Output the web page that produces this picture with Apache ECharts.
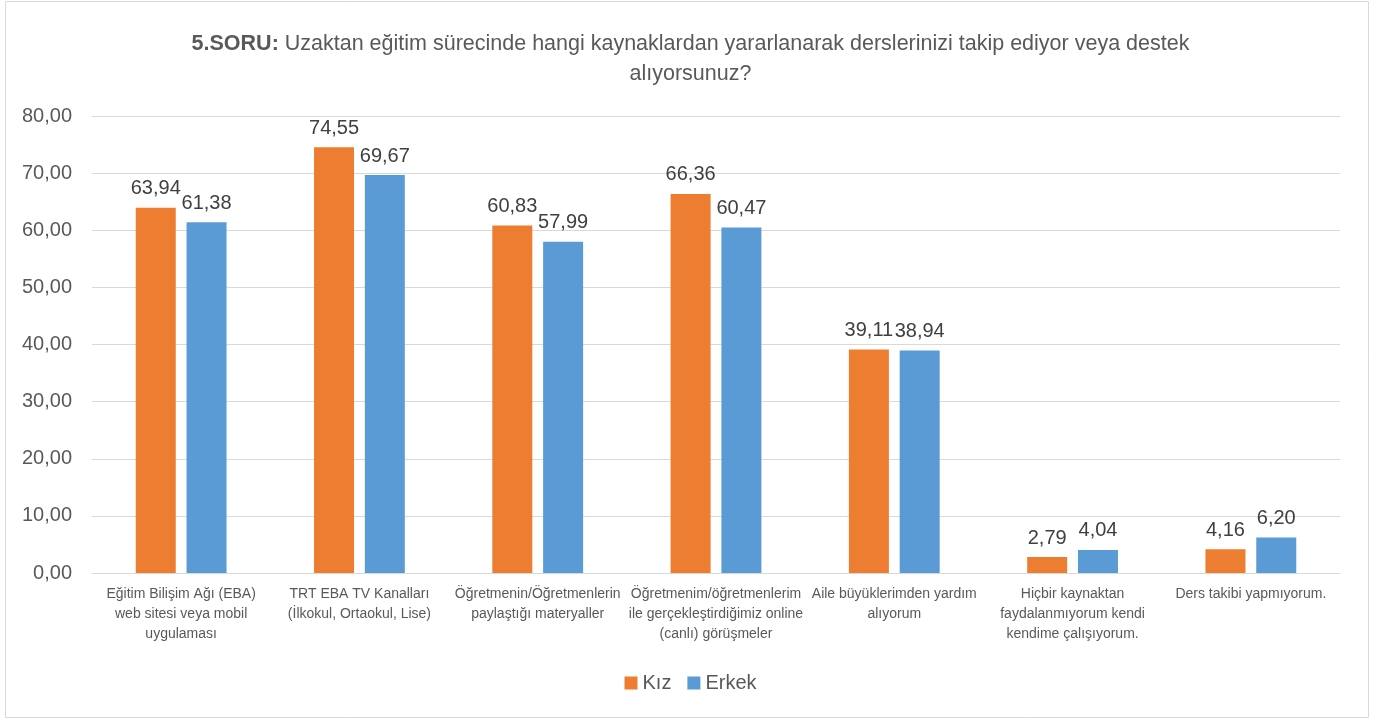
<!DOCTYPE html>
<html>
<head>
<meta charset="utf-8">
<title>5.SORU</title>
<script src="https://cdn.jsdelivr.net/npm/echarts@6/dist/echarts.min.js"></script>
<style>
    html, body { margin: 0; padding: 0; background: #fff; }
    #chart { width: 1381px; height: 720px; }
</style>
</head>
<body>
<div id="chart"></div>
<script>
// veriler
var categories = [
    'Eğitim Bilişim Ağı (EBA)\nweb sitesi veya mobil\nuygulaması',
    'TRT EBA TV Kanalları\n(İlkokul, Ortaokul, Lise)',
    'Öğretmenin/Öğretmenlerin\npaylaştığı materyaller',
    'Öğretmenim/öğretmenlerim\nile gerçekleştirdiğimiz online\n(canlı) görüşmeler',
    'Aile büyüklerimden yardım\nalıyorum',
    'Hiçbir kaynaktan\nfaydalanmıyorum kendi\nkendime çalışıyorum.',
    'Ders takibi yapmıyorum.'
];
var kiz = [63.94, 74.55, 60.83, 66.36, 39.11, 2.79, 4.16];
var erkek = [61.38, 69.67, 57.99, 60.47, 38.94, 4.04, 6.20];
var seriesNames = ['Kız', 'Erkek'];

var textColor = '#595959';
var fontName = '"Liberation Sans", Arial, sans-serif';

function fmt(v) {
    return Number(v).toFixed(2).replace('.', ',');
}

function barLabel() {
    return {
        show: true,
        position: 'top',
        distance: 9,
        fontFamily: fontName,
        fontSize: 20,
        color: '#404040',
        formatter: function (p) { return fmt(p.value); }
    };
}

var chart = echarts.init(document.getElementById('chart'));

var option = {
    animation: false,
    textStyle: { fontFamily: fontName, color: textColor },
    title: {
        text: '{b|5.SORU:} Uzaktan eğitim sürecinde hangi kaynaklardan yararlanarak derslerinizi takip ediyor veya destek\nalıyorsunuz?',
        left: 'center',
        top: 24,
        textStyle: {
            fontFamily: fontName,
            fontSize: 21.5,
            fontWeight: 'normal',
            color: textColor,
            lineHeight: 30,
            align: 'center',
            rich: {
                b: { fontFamily: fontName, fontSize: 21.5, fontWeight: 'bold', color: textColor, lineHeight: 30 }
            }
        }
    },
    legend: {
        data: seriesNames,
        bottom: 22,
        left: 'center',
        itemWidth: 13,
        itemHeight: 13,
        itemGap: 16,
        icon: 'rect',
        textStyle: { fontFamily: fontName, fontSize: 20, color: textColor }
    },
    grid: {
        left: 92,
        right: 41,
        top: 116,
        bottom: 147
    },
    xAxis: {
        type: 'category',
        data: categories,
        axisTick: { show: false },
        axisLine: { lineStyle: { color: '#d9d9d9', width: 1 } },
        axisLabel: {
            interval: 0,
            color: textColor,
            fontFamily: fontName,
            fontSize: 14,
            lineHeight: 20,
            margin: 11
        }
    },
    yAxis: {
        type: 'value',
        min: 0,
        max: 80,
        interval: 10,
        axisLine: { show: false },
        axisTick: { show: false },
        splitLine: { lineStyle: { color: '#d9d9d9', width: 1 } },
        axisLabel: {
            color: textColor,
            fontFamily: fontName,
            fontSize: 20,
            margin: 20,
            formatter: fmt
        }
    },
    series: [
        {
            name: seriesNames[0],
            type: 'bar',
            data: kiz,
            barWidth: 40,
            barGap: '27%',
            itemStyle: { color: '#ED7D31' },
            label: barLabel()
        },
        {
            name: seriesNames[1],
            type: 'bar',
            data: erkek,
            barWidth: 40,
            itemStyle: { color: '#5B9BD5' },
            label: barLabel()
        }
    ],
    graphic: [
        {
            type: 'rect',
            shape: { x: 5.5, y: 1.5, width: 1363, height: 716 },
            style: { fill: 'none', stroke: '#d9d9d9', lineWidth: 1 },
            silent: true
        }
    ]
};

chart.setOption(option);
</script>
</body>
</html>
